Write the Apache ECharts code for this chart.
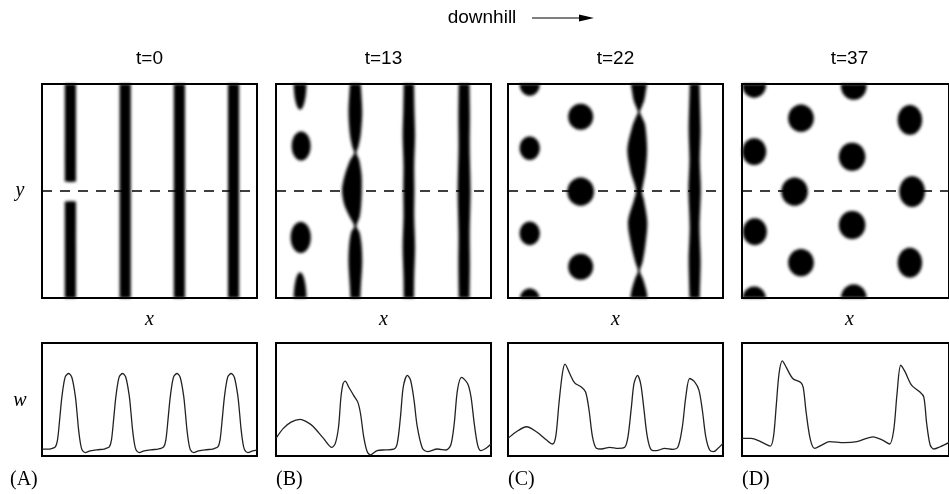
<!DOCTYPE html>
<html>
<head>
<meta charset="utf-8">
<script src="https://cdn.jsdelivr.net/npm/echarts@6/dist/echarts.min.js"></script>
<style>
  html, body { margin: 0; padding: 0; background: #fff; }
  #wrap { position: relative; width: 949px; height: 494px; overflow: hidden; }
  #pattern, #chart { position: absolute; left: 0; top: 0; width: 949px; height: 494px; }
  /* the concentration fields have soft edges */
  #pattern { filter: blur(1.35px); }
</style>
</head>
<body>
<div id="wrap"><div id="pattern"></div><div id="chart"></div></div>
<script>
// ---- panel texts ----
const panelTitles = ['t=0', 't=13', 't=22', 't=37'];
const panelTags = ['(A)', '(B)', '(C)', '(D)'];

// ---- vegetation stripes: [xCentre, [[y, halfWidth, centreShift], ...]] ----
const stripesA = [
  [13.2, [[-8, 2.6], [0, 2.6], [25, 2.6], [44, 2.6], [45, 2.55]]],
  [13.2, [[54.4, 2.55], [55.4, 2.6], [75, 2.6], [100, 2.6], [108, 2.6]]],
  [38.7, [[-8, 2.6], [0, 2.6], [50, 2.6], [100, 2.6], [108, 2.6]]],
  [63.9, [[-8, 2.6], [0, 2.6], [50, 2.6], [100, 2.6], [108, 2.6]]],
  [89.1, [[-8, 2.6], [0, 2.6], [50, 2.6], [100, 2.6], [108, 2.6]]]
];
const stripesB = [
  [36.9, [[108, 2.3], [101, 2.4], [97.2, 2.7], [86.4, 3.2], [76.2, 2.5], [70.7, 1.4], [67.8, 0.5],
          [64.5, 2.1, -0.3], [57.5, 3.9, -1.0], [50.5, 4.6, -1.6], [43.5, 3.9, -1.2],
          [37.9, 2.3, -0.3], [33.6, 0.5], [30.8, 1.9], [24.8, 2.9], [16.4, 3.2],
          [6.1, 2.6], [-1, 2.3], [-8, 2.3]]],
  [61.8, [[108, 2.4], [101, 2.4], [88, 2.6], [76, 2.9], [62, 2.5], [50, 2.6], [38, 2.5], [24, 2.9], [10, 2.5], [-1, 2.4], [-8, 2.4]]],
  [87.5, [[108, 2.5], [101, 2.5], [85, 2.7], [70, 2.6], [50, 3.0], [30, 2.6], [15, 2.7], [-1, 2.5], [-8, 2.5]]]
];
const stripesC = [
  [60.9, [[108, 4.0], [101, 3.9], [97.2, 3.3], [92.5, 2.5], [89.3, 1.3], [86.9, 0.45], [84.6, 1.4],
          [80.8, 2.9], [69.2, 4.6, -0.8], [58.9, 3.4, -0.4], [52.8, 1.9], [49.5, 1.4],
          [45.8, 2.3], [35.5, 4.5, -0.6], [24.8, 3.3, -0.3], [16.8, 1.7], [12.6, 0.45],
          [8.9, 1.9], [3.7, 3.4], [-1, 4.1], [-8, 4.2]]],
  [86.8, [[108, 2.3], [98.7, 2.3], [78.5, 2.8], [64.5, 2.4], [50.5, 2.9], [33.3, 2.3], [17.8, 2.8], [0.6, 2.4], [-8, 2.4]]]
];
const stripesD = [];

// ---- vegetation spots: [x, y, radiusX, radiusY] ----
const spotsA = [];
const spotsB = [
  [11.2, 101, 3.0, 13.0],
  [11.7, 71.0, 4.4, 6.8],
  [11.5, 28.3, 4.7, 7.3],
  [11.2, -1, 3.0, 13.0]
];
const spotsC = [
  [10.1, 100, 4.7, 5.5],
  [10.1, 70.0, 4.7, 5.5],
  [10.1, 30.2, 4.7, 5.5],
  [10.1, -1, 4.7, 5.5],
  [33.8, 84.7, 5.8, 6.1],
  [33.8, 49.7, 6.2, 6.6],
  [33.8, 14.6, 5.8, 6.1]
];
const spotsD = [
  [5.9, 99.5, 5.7, 5.9],
  [28.5, 84.0, 6.2, 6.4],
  [5.9, 68.4, 5.8, 6.3],
  [25.4, 49.7, 6.4, 6.6],
  [6.2, 31.0, 5.8, 6.3],
  [28.5, 16.5, 6.2, 6.4],
  [5.9, -0.5, 5.7, 5.9],
  [54.0, 99, 6.2, 6.4],
  [53.2, 66.0, 6.4, 6.6],
  [53.2, 34.1, 6.4, 6.6],
  [54.0, 0, 6.2, 6.4],
  [81.1, 83.2, 5.9, 7.0],
  [82.2, 49.7, 6.2, 7.2],
  [81.1, 16.5, 5.9, 7.0]
];

// ---- w along the dashed transect: [x, w] ----
const profileA = [[0,6],[3,6],[4.4,6.5],[6.2,8],[7.2,14],[8.2,32],[9.3,53],[10.8,70],[12.4,73],[13.9,69.5],[15.5,53],[16.3,38],[17,23.5],[17.8,12],[18.6,5.5],[20.1,3],[22.4,4.5],[25.4,5.5],[28.9,6],
  [29.5,6.5],[31.3,8],[32.3,14],[33.3,32],[34.4,53],[35.9,70],[37.5,73],[39,69.5],[40.6,53],[41.4,38],[42.1,23.5],[42.9,12],[43.7,5.5],[45.2,3],[47.5,4.5],[50.5,5.5],[54,6],
  [54.8,6.5],[56.6,8],[57.6,14],[58.6,32],[59.7,53],[61.2,70],[62.8,73],[64.3,69.5],[65.9,53],[66.7,38],[67.4,23.5],[68.2,12],[69,5.5],[70.5,3],[72.8,4.5],[75.8,5.5],[79.3,6],
  [80,6.5],[81.8,8],[82.8,14],[83.8,32],[84.9,53],[86.4,70],[88,73],[89.5,69.5],[91.1,53],[91.9,38],[92.6,23.5],[93.4,12],[94.2,5.5],[95.7,3],[98,4.5],[100,5.5]];
const profileB = [[0,15.6],[3.4,24.4],[7,30],[11.2,32.4],[14.5,30],[17.4,25.9],[22.1,15.6],[26,7.7],[27.6,11.2],[29.1,25.9],[30.2,52],[31.2,64],[32.2,66.2],[33.8,61.1],[36.1,53.7],[38,47.9],[39.3,37.6],[40.8,17],[42.4,3.9],[43.9,1],[47,4.8],[50.9,5.4],[54.8,6],[56.4,11.2],[57.9,34.7],[59.2,61.1],[61.1,71.4],[62.6,67],[64.2,49.4],[65.7,25.9],[68.1,6.8],[70.4,3.9],[75.1,6.2],[79,5.3],[81.3,9.7],[82.9,28.8],[84.4,58.3],[86.3,69.5],[89.1,64.2],[90.7,52.4],[92.2,28.8],[93.8,9.7],[95.3,4.7],[97.7,6.8],[100,10.6]];
const profileC = [[0,15.6],[3.9,21.5],[8.6,25.9],[13.2,21.5],[17.9,14.1],[20.7,10.6],[22.2,17.1],[23.7,46.5],[25.3,73],[26.5,81.3],[28.7,73],[31,64.7],[34.1,61.1],[36.1,56.7],[37.7,40.5],[39.3,17],[41.1,6.8],[43.4,6.2],[47.3,7.7],[51.2,6.8],[54.3,7.7],[55.8,17],[57.4,43.5],[58.6,64],[60.2,71.4],[61.7,64],[63.1,43.5],[64.8,17],[66.7,5.3],[69,4.7],[72.9,6.8],[76.7,5.9],[79.1,8.2],[81.1,25.9],[82.7,52.4],[84.5,68.6],[86.8,65.6],[88.8,58.3],[90.4,40.5],[92,17],[93.8,5.3],[95.7,3.9],[97.7,6.8],[100,11.2]];
const profileD = [[0,15.6],[4.4,15.6],[9,12.7],[13.7,8.8],[15.2,17],[16.5,43.5],[17.9,73],[19.5,84.2],[21.4,78.4],[24.5,68.6],[28.4,65],[29.6,60.6],[31,38.5],[33,14.7],[35.1,6.8],[38.5,9.7],[42.3,12.7],[49.3,11.8],[55.5,12.7],[63.3,17],[67.9,14.1],[71.3,10.6],[73.3,23],[74.9,55.3],[76.7,80.3],[78.8,74.4],[81.9,62.7],[85.8,56.8],[87.8,52.4],[89.2,29],[90.9,9.7],[92.7,6.2],[95.8,8.2],[100,12]];

const transectY = 50;

// ---- layout ----
const LEFTS = [42, 276, 508, 742];
const PW = 215;
const TOP_Y = 84, TOP_H = 214;
const BOT_Y = 343, BOT_H = 113;
const SANS = '"Liberation Sans", Arial, Helvetica, sans-serif';
const SERIF = '"Liberation Serif", "Times New Roman", serif';

const allStripes = [stripesA, stripesB, stripesC, stripesD];
const allSpots = [spotsA, spotsB, spotsC, spotsD];
const allProfiles = [profileA, profileB, profileC, profileD];

function axisPair(n) {
  const xs = [], ys = [];
  for (let i = 0; i < n; i++) {
    xs.push({ gridIndex: i, type: 'value', min: 0, max: 100, show: false });
    ys.push({ gridIndex: i, type: 'value', min: 0, max: 100, show: false });
  }
  return { xs, ys };
}

function stripeRenderer(list) {
  return function (params, api) {
    const s = list[params.dataIndex];
    const xc = s[0];
    const left = [], right = [];
    s[1].forEach(p => {
      const off = p[2] || 0;
      left.push(api.coord([xc + off - p[1], p[0]]));
      right.push(api.coord([xc + off + p[1], p[0]]));
    });
    return {
      type: 'polygon',
      shape: { points: left.concat(right.reverse()), smooth: 0.3 },
      style: { fill: '#000' }
    };
  };
}

function spotRenderer(list) {
  return function (params, api) {
    const s = list[params.dataIndex];
    const c = api.coord([s[0], s[1]]);
    const r = api.size([s[2], s[3]]);
    const pts = [];
    for (let k = 0; k < 60; k++) {
      const a = (k / 60) * Math.PI * 2;
      pts.push([c[0] + r[0] * Math.cos(a), c[1] + r[1] * Math.sin(a)]);
    }
    return { type: 'polygon', shape: { points: pts }, style: { fill: '#000' } };
  };
}

// ---- layer 1: the vegetation fields ----
const patGrids = LEFTS.map(l => ({ left: l, top: TOP_Y, width: PW, height: TOP_H, show: false }));
const pa = axisPair(4);
const patSeries = [];
for (let i = 0; i < 4; i++) {
  if (allStripes[i].length) {
    patSeries.push({
      type: 'custom', xAxisIndex: i, yAxisIndex: i, clip: true,
      renderItem: stripeRenderer(allStripes[i]),
      encode: { x: 0, y: 1 },
      data: allStripes[i].map(s => [s[0], transectY])
    });
  }
  if (allSpots[i].length) {
    patSeries.push({
      type: 'custom', xAxisIndex: i, yAxisIndex: i, clip: true,
      renderItem: spotRenderer(allSpots[i]),
      encode: { x: 0, y: 1 },
      data: allSpots[i].map(s => [s[0], s[1]])
    });
  }
}
const patChart = echarts.init(document.getElementById('pattern'), null, { renderer: 'canvas' });
patChart.setOption({
  animation: false,
  backgroundColor: '#fff',
  grid: patGrids,
  xAxis: pa.xs,
  yAxis: pa.ys,
  series: patSeries
});

// ---- layer 2: frames, transects, w profiles and labels ----
const frameGrids = [];
LEFTS.forEach(l => frameGrids.push({ left: l, top: TOP_Y, width: PW, height: TOP_H, show: true, borderColor: '#000', borderWidth: 2, backgroundColor: 'transparent' }));
LEFTS.forEach(l => frameGrids.push({ left: l, top: BOT_Y, width: PW, height: BOT_H, show: true, borderColor: '#000', borderWidth: 2, backgroundColor: 'transparent' }));
const fa = axisPair(8);

const lineSeries = [];
for (let i = 0; i < 4; i++) {
  lineSeries.push({
    type: 'line', xAxisIndex: i, yAxisIndex: i, symbol: 'none', silent: true,
    data: [[0, transectY], [100, transectY]],
    lineStyle: { color: '#000', width: 1.7, type: [10, 8] }
  });
  lineSeries.push({
    type: 'line', xAxisIndex: 4 + i, yAxisIndex: 4 + i, symbol: 'none', silent: true,
    smooth: 0.3,
    data: allProfiles[i],
    lineStyle: { color: '#222', width: 1.3 }
  });
}

const texts = [];
texts.push({ type: 'text', x: 482, y: 18, style: { text: 'downhill', font: '19px ' + SANS, fill: '#000', align: 'center', verticalAlign: 'middle' } });
texts.push({ type: 'line', shape: { x1: 532, y1: 18, x2: 584, y2: 18 }, style: { stroke: '#000', lineWidth: 1.2 } });
texts.push({ type: 'polygon', shape: { points: [[579, 14.5], [594, 18], [579, 21.5]] }, style: { fill: '#000' } });
LEFTS.forEach((l, i) => {
  texts.push({ type: 'text', x: l + PW / 2, y: 59, style: { text: panelTitles[i], font: '19px ' + SANS, fill: '#000', align: 'center', verticalAlign: 'middle' } });
  texts.push({ type: 'text', x: l + PW / 2, y: 320, style: { text: 'x', font: 'italic 20px ' + SERIF, fill: '#000', align: 'center', verticalAlign: 'middle' } });
  texts.push({ type: 'text', x: i === 0 ? 10 : l, y: 480, style: { text: panelTags[i], font: '20px ' + SERIF, fill: '#000', align: 'left', verticalAlign: 'middle' } });
});
texts.push({ type: 'text', x: 20, y: 191, style: { text: 'y', font: 'italic 20px ' + SERIF, fill: '#000', align: 'center', verticalAlign: 'middle' } });
texts.push({ type: 'text', x: 20, y: 401, style: { text: 'w', font: 'italic 20px ' + SERIF, fill: '#000', align: 'center', verticalAlign: 'middle' } });

const chart = echarts.init(document.getElementById('chart'), null, { renderer: 'canvas' });
chart.setOption({
  animation: false,
  grid: frameGrids,
  xAxis: fa.xs,
  yAxis: fa.ys,
  series: lineSeries,
  graphic: texts
});
</script>
</body>
</html>
